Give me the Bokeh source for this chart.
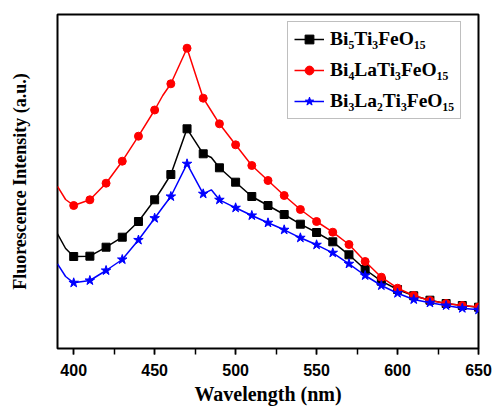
import math
from bokeh.plotting import figure
from bokeh.models import (ColumnDataSource, Legend, LegendItem, Title, Range1d,
                          SingleIntervalTicker)
from bokeh.embed import file_html
from bokeh.resources import INLINE

# ---- data (wavelength in nm, intensity in arbitrary units) ----
wavelength = [390, 395, 400, 410, 420, 430, 440, 450, 455, 460, 470, 480, 485, 490,
              500, 510, 520, 530, 540, 550, 560, 570, 580, 590, 600, 610, 620,
              630, 640, 650]
bi5 = [114.7, 100.0, 92.0, 92.3, 101.3, 111.3, 127.0, 148.7, 161.0, 174.0, 219.7,
       194.7, 191.0, 180.7, 166.3, 152.0, 143.0, 134.0, 124.3, 116.0, 106.7, 93.7,
       79.0, 67.3, 59.0, 52.7, 48.3, 45.0, 43.0, 41.3]
bi4la = [162.0, 149.0, 143.0, 148.7, 165.3, 187.3, 212.3, 238.5, 253.0, 264.7,
         300.3, 250.3, 237.5, 224.7, 203.7, 183.0, 168.0, 153.0, 139.0, 127.0,
         116.3, 104.0, 87.0, 71.3, 60.3, 53.0, 48.0, 45.0, 43.0, 41.5]
bi3la2 = [84.7, 72.0, 65.7, 68.0, 78.0, 89.0, 108.5, 130.3, 141.3, 152.0, 184.7,
          154.7, 158.7, 148.7, 140.7, 133.0, 125.7, 118.7, 110.7, 103.7, 95.7,
          84.7, 73.0, 63.0, 55.3, 49.0, 45.7, 43.0, 40.3, 38.7]
names = ["Bi\u2085Ti\u2083FeO\u2081\u2085",
         "Bi\u2084LaTi\u2083FeO\u2081\u2085",
         "Bi\u2083La\u2082Ti\u2083FeO\u2081\u2085"]
colors = ["#000000", "#FF0000", "#0000FF"]
markers = ["square", "circle", "star"]
msizes = [8, 8, 10]

SERIF = "Liberation Serif"

p = figure(width=493, height=408, output_backend="svg", toolbar_location=None,
           x_range=Range1d(390, 650), y_range=Range1d(0, 334),
           min_border_left=55, min_border_right=15, min_border_top=14,
           min_border_bottom=60)
p.background_fill_color = "white"
p.border_fill_color = "white"
p.outline_line_color = "black"
p.outline_line_width = 2
p.xgrid.visible = False
p.ygrid.visible = False
p.yaxis.visible = False

xa = p.xaxis[0]
xa.ticker = SingleIntervalTicker(interval=50, num_minor_ticks=2)
xa.axis_line_color = None
xa.major_tick_in = 0
xa.major_tick_out = 6
xa.minor_tick_in = 0
xa.minor_tick_out = 6
xa.major_tick_line_width = 1.5
xa.minor_tick_line_width = 1.5
xa.major_label_text_font = "Liberation Sans"
xa.major_label_text_font_style = "bold"
xa.major_label_text_font_size = "16px"
xa.major_label_text_color = "black"
xa.major_label_standoff = 9

xt = Title(text="Wavelength (nm)", align="center", text_font=SERIF,
           text_font_style="bold", text_font_size="20px", text_color="black",
           standoff=4)
p.add_layout(xt, "below")

spacer = Title(text=" ", text_font_size="10px", standoff=8)
p.add_layout(spacer, "left")
yt = Title(text="Fluorescence Intensity (a.u.)", align="center", text_font=SERIF,
           text_font_style="bold", text_font_size="18px", text_color="black",
           offset=36, standoff=14)
p.add_layout(yt, "left")

items = []
for vals, name, c, m, s in zip([bi5, bi4la, bi3la2], names, colors, markers, msizes):
    src = ColumnDataSource(dict(x=wavelength, y=vals))
    mk = [i for i, w in enumerate(wavelength) if w >= 400 and w % 10 == 0]
    msrc = ColumnDataSource(dict(x=[wavelength[i] for i in mk], y=[vals[i] for i in mk]))
    r1 = p.line("x", "y", source=src, line_color=c, line_width=1.5)
    r2 = p.scatter("x", "y", source=msrc, marker=m, size=s, fill_color=c, line_color=c)
    items.append(LegendItem(label=name, renderers=[r1, r2]))

legend = Legend(items=items, location=(230, 229))
legend.label_text_font = SERIF
legend.label_text_font_style = "bold"
legend.label_text_font_size = "19.5px"
legend.label_text_color = "black"
legend.glyph_width = 30
legend.glyph_height = 22
legend.label_height = 22
legend.label_standoff = 6
legend.spacing = 9
legend.padding = 6
legend.margin = 0
legend.border_line_color = "#808080"
legend.border_line_width = 1
legend.background_fill_color = "white"
p.add_layout(legend, "center")

open("out.html", "w").write(file_html(p, INLINE))
